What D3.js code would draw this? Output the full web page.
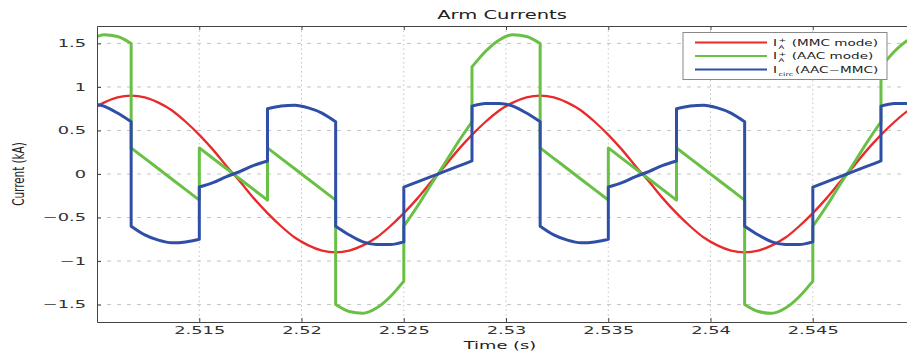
<!DOCTYPE html>
<html>
<head>
<meta charset="utf-8">
<style>
  body { margin: 0; background: #fff; }
  svg { display: block; font-family: "DejaVu Sans", sans-serif; }
</style>
</head>
<body>
<div id="chart"></div>
<script src="https://cdn.jsdelivr.net/npm/d3@7"></script>
<script>
'use strict';

// samples every 12 deg of a 50 Hz period (0.02 s / 30), first sample just left of the axis
var sampleStart = 2.50967,
    sampleStep = 0.02 / 30;

// a two-value entry is a switching instant: [value before, value after]
var mmcArm = [0.73, 0.82, 0.88,
  0.90, 0.88, 0.82, 0.73, 0.60, 0.45, 0.28, 0.09, -0.09, -0.28, -0.45, -0.60, -0.73, -0.82, -0.88,
  -0.90, -0.88, -0.82, -0.73, -0.60, -0.45, -0.28, -0.09, 0.09, 0.28, 0.45, 0.60, 0.73, 0.82, 0.88,
  0.90, 0.88, 0.82, 0.73, 0.60, 0.45, 0.28, 0.09, -0.09, -0.28, -0.45, -0.60, -0.73, -0.82, -0.88,
  -0.90, -0.88, -0.82, -0.73, -0.60, -0.45, -0.28, -0.09, 0.09, 0.28, 0.45, 0.60, 0.73, 0.82];

var aacArm = [1.54, 1.60, 1.58,
  [1.50, 0.30], 0.18, 0.06, -0.06, -0.18, [-0.30, 0.30], 0.18, 0.06, -0.06, -0.18,
  [-0.30, 0.30], 0.18, 0.06, -0.06, -0.18, [-0.30, -1.50], -1.58, -1.60, -1.54, -1.41,
  [-1.23, -0.60], -0.37, -0.12, 0.12, 0.37, [0.60, 1.23], 1.41, 1.54, 1.60, 1.58,
  [1.50, 0.30], 0.18, 0.06, -0.06, -0.18, [-0.30, 0.30], 0.18, 0.06, -0.06, -0.18,
  [-0.30, 0.30], 0.18, 0.06, -0.06, -0.18, [-0.30, -1.50], -1.58, -1.60, -1.54, -1.41,
  [-1.23, -0.60], -0.37, -0.12, 0.12, 0.37, [0.60, 1.23], 1.41, 1.54, 1.60];

var circCurrent = [0.81, 0.78, 0.70,
  [0.60, -0.60], -0.70, -0.76, -0.79, -0.78, [-0.75, -0.15], -0.10, -0.03, 0.03, 0.10,
  [0.15, 0.75], 0.78, 0.79, 0.76, 0.70, [0.60, -0.60], -0.70, -0.78, -0.81, -0.81,
  [-0.78, -0.15], -0.09, -0.03, 0.03, 0.09, [0.15, 0.78], 0.81, 0.81, 0.78, 0.70,
  [0.60, -0.60], -0.70, -0.76, -0.79, -0.78, [-0.75, -0.15], -0.10, -0.03, 0.03, 0.10,
  [0.15, 0.75], 0.78, 0.79, 0.76, 0.70, [0.60, -0.60], -0.70, -0.78, -0.81, -0.81,
  [-0.78, -0.15], -0.09, -0.03, 0.03, 0.09, [0.15, 0.78], 0.81, 0.81, 0.78];

var xTicks = [2.515, 2.52, 2.525, 2.53, 2.535, 2.54, 2.545];
var yTicks = [-1.5, -1, -0.5, 0, 0.5, 1, 1.5];

var series = [
  {values: mmcArm, color: '#e82a2a', width: 2.3, sub: 'A', sup: '+', label: '(MMC mode)'},
  {values: aacArm, color: '#68c044', width: 3, sub: 'A', sup: '+', label: '(AAC mode)'},
  {values: circCurrent, color: '#2f4ea6', width: 3, sub: 'circ', sup: '', label: '(AAC\u2212MMC)'}
];

var width = 907, height = 354,
    plotLeft = 97, plotRight = 915, plotTop = 26, plotBottom = 322,
    stretch = 1.7;

var x = d3.scaleLinear().domain([2.51, 2.55]).range([plotLeft, plotRight]);
var y = d3.scaleLinear().domain([-1.7, 1.7]).range([plotBottom, plotTop]);

var svg = d3.select('#chart').append('svg')
  .attr('width', width).attr('height', height);

svg.append('clipPath').attr('id', 'plot')
  .append('rect').attr('x', plotLeft).attr('y', plotTop)
  .attr('width', plotRight - plotLeft).attr('height', plotBottom - plotTop);

// grid
svg.append('g').selectAll('line').data(xTicks).enter().append('line')
  .attr('x1', x).attr('x2', x).attr('y1', plotTop).attr('y2', plotBottom)
  .attr('stroke', '#c4c4c4').attr('stroke-dasharray', '1.5,3');
svg.append('g').selectAll('line').data(yTicks).enter().append('line')
  .attr('x1', plotLeft).attr('x2', plotRight).attr('y1', y).attr('y2', y)
  .attr('stroke', '#c4c4c4').attr('stroke-dasharray', '4,6');

// curves: split at switching instants so the jumps are vertical
var line = d3.line().x(d => x(d[0])).y(d => y(d[1])).curve(d3.curveMonotoneX);

function pathFor(values) {
  var runs = [[]];
  values.forEach(function(v, i) {
    var t = sampleStart + i * sampleStep;
    if (Array.isArray(v)) {
      runs[runs.length - 1].push([t, v[0]]);
      runs.push([[t, v[1]]]);
    } else {
      runs[runs.length - 1].push([t, v]);
    }
  });
  return runs.map(function(r, i) {
    var s = line(r);
    return i ? 'L' + s.slice(1) : s;
  }).join('');
}

svg.append('g').attr('clip-path', 'url(#plot)')
  .selectAll('path').data(series).enter().append('path')
  .attr('d', d => pathFor(d.values))
  .attr('fill', 'none')
  .attr('stroke', d => d.color)
  .attr('stroke-width', d => d.width)
  .attr('stroke-linejoin', 'round');

// axes
var xAxis = svg.append('g').attr('transform', 'translate(0,' + plotBottom + ')')
  .call(d3.axisBottom(x).tickValues(xTicks).tickFormat(d => String(d))
    .tickSize(-4).tickSizeOuter(0).tickPadding(5));
xAxis.selectAll('text').attr('transform', 'scale(' + stretch + ',1)');

svg.append('g').attr('transform', 'translate(0,' + plotTop + ')')
  .call(d3.axisTop(x).tickValues(xTicks).tickFormat('').tickSize(-4).tickSizeOuter(0));

var yAxis = svg.append('g').attr('transform', 'translate(' + plotLeft + ',0)')
  .call(d3.axisLeft(y).tickValues(yTicks).tickFormat(d => String(d).replace('-', '\u2212'))
    .tickSize(-4).tickSizeOuter(0));
yAxis.selectAll('text').attr('x', -11 / stretch).attr('transform', 'scale(' + stretch + ',1)');

svg.selectAll('.domain, .tick line').attr('stroke', '#444');
svg.selectAll('.tick text').attr('fill', '#333').attr('font-size', 10.5)
  .attr('font-family', '"DejaVu Sans", sans-serif');

// titles
svg.append('text').attr('transform', 'translate(502,18.5) scale(' + stretch + ',1)')
  .attr('text-anchor', 'middle').attr('font-size', 11.5).attr('fill', '#222')
  .text('Arm Currents');
svg.append('text').attr('transform', 'translate(500,348.5) scale(' + stretch + ',1)')
  .attr('text-anchor', 'middle').attr('font-size', 10.5).attr('fill', '#222')
  .text('Time (s)');
svg.append('text').attr('transform', 'translate(24,174) scale(1.5,1) rotate(-90)')
  .attr('text-anchor', 'middle').attr('font-size', 10.4).attr('fill', '#222')
  .text('Current (kA)');

// legend
var legend = svg.append('g');
legend.append('rect').attr('x', 683).attr('y', 32.5).attr('width', 204).attr('height', 47)
  .attr('fill', '#fff').attr('stroke', '#888');

var rows = legend.selectAll('g.row').data(series).enter().append('g')
  .attr('class', 'row')
  .attr('transform', (d, i) => 'translate(0,' + (42.5 + i * 13.5) + ')');
rows.append('line').attr('x1', 695).attr('x2', 767)
  .attr('stroke', d => d.color).attr('stroke-width', 2);
var lbl = rows.append('g').attr('transform', 'translate(773,3) scale(' + stretch + ',1)')
  .attr('font-size', 8).attr('fill', '#222');
lbl.append('text').text('I');
lbl.append('text').attr('x', 3.2).attr('y', -3.2).attr('font-size', 5.5).text(d => d.sup);
lbl.append('text').attr('x', 3.2).attr('y', 3).attr('font-size', 5).text(d => d.sub);
lbl.append('text').attr('x', d => d.sub === 'circ' ? 13 : 11).text(d => d.label);

</script>
</body>
</html>
